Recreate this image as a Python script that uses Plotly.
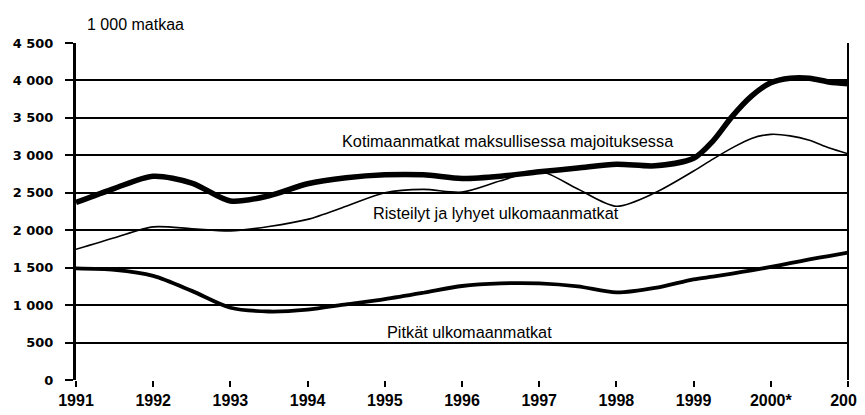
import plotly.graph_objects as go

years = [1991, 1991.5, 1992, 1992.5, 1993, 1993.5, 1994, 1994.5, 1995, 1995.5,
         1996, 1996.5, 1997, 1997.5, 1998, 1998.5, 1999, 1999.25, 1999.5, 1999.75,
         2000, 2000.25, 2000.5, 2000.75, 2001]

kotimaan = [2370, 2560, 2720, 2630, 2390, 2460, 2620, 2700, 2740, 2740,
            2690, 2720, 2780, 2830, 2880, 2860, 2960, 3190, 3520, 3790,
            3970, 4030, 4030, 3980, 3955]

risteilyt = [1745, 1900, 2045, 2020, 1990, 2050, 2145, 2320, 2500, 2545,
             2510, 2660, 2790, 2550, 2320, 2500, 2790, 2950, 3100, 3226,
             3280, 3260, 3200, 3100, 3020]

pitkat = [1490, 1470, 1390, 1190, 965, 915, 940, 1010, 1080, 1165,
          1255, 1290, 1290, 1250, 1170, 1230, 1345, 1380, 1420, 1465,
          1510, 1560, 1610, 1655, 1700]

tick_vals = [1991, 1992, 1993, 1994, 1995, 1996, 1997, 1998, 1999, 2000, 2001]
tick_text = ["1991", "1992", "1993", "1994", "1995", "1996", "1997", "1998", "1999", "2000*", "2001"]
y_vals = [0, 500, 1000, 1500, 2000, 2500, 3000, 3500, 4000, 4500]
y_text = ["0", "500", "1 000", "1 500", "2 000", "2 500", "3 000", "3 500", "4 000", "4 500"]

fig = go.Figure()
fig.add_trace(go.Scatter(x=years, y=risteilyt, mode="lines",
                         line=dict(color="black", width=1.6, shape="spline", smoothing=0.8)))
fig.add_trace(go.Scatter(x=years, y=pitkat, mode="lines",
                         line=dict(color="black", width=3.8, shape="spline", smoothing=0.8)))
fig.add_trace(go.Scatter(x=years, y=kotimaan, mode="lines",
                         line=dict(color="black", width=5.5, shape="spline", smoothing=0.8)))

font = "Liberation Sans, Arial, sans-serif"
fig.add_annotation(x=1996.6, y=3190, text="Kotimaanmatkat maksullisessa majoituksessa",
                   showarrow=False, font=dict(family=font, size=16.3, color="black"))
fig.add_annotation(x=1996.44, y=2230, text="Risteilyt ja lyhyet ulkomaanmatkat",
                   showarrow=False, font=dict(family=font, size=16.3, color="black"))
fig.add_annotation(x=1996.1, y=640, text="Pitkät ulkomaanmatkat",
                   showarrow=False, font=dict(family=font, size=16.3, color="black"))
fig.add_annotation(xref="paper", yref="paper", x=0.0116, y=1.0, yshift=8, xanchor="left",
                   yanchor="bottom", text="1 000 matkaa", showarrow=False,
                   font=dict(family=font, size=16, color="black"))

fig.add_shape(type="line", xref="paper", yref="paper", x0=1, x1=1, y0=0, y1=1,
              line=dict(color="black", width=2))

fig.update_layout(
    width=865, height=415,
    margin=dict(l=68, r=25, t=35, b=43),
    paper_bgcolor="white", plot_bgcolor="white",
    showlegend=False,
    font=dict(family=font, color="black"),
)
fig.update_xaxes(range=[1991, 2001], tickvals=tick_vals, ticktext=tick_text,
                 showgrid=False, zeroline=False, showline=False, automargin=False,
                 ticks="outside", ticklen=6, tickwidth=2, tickcolor="black",
                 tickfont=dict(family=font, size=16, color="black", weight="bold"))
fig.update_yaxes(range=[0, 4500], tickvals=y_vals, ticktext=y_text,
                 showgrid=True, gridcolor="black", gridwidth=2, zeroline=False,
                 showline=True, linecolor="black", linewidth=3, automargin=False,
                 ticks="outside", ticklen=8, tickwidth=2, tickcolor="black",
                 ticklabelstandoff=9,
                 tickfont=dict(family="DejaVu Sans, sans-serif", size=13, color="black",
                               weight="bold"))

fig.write_html("out.html")
